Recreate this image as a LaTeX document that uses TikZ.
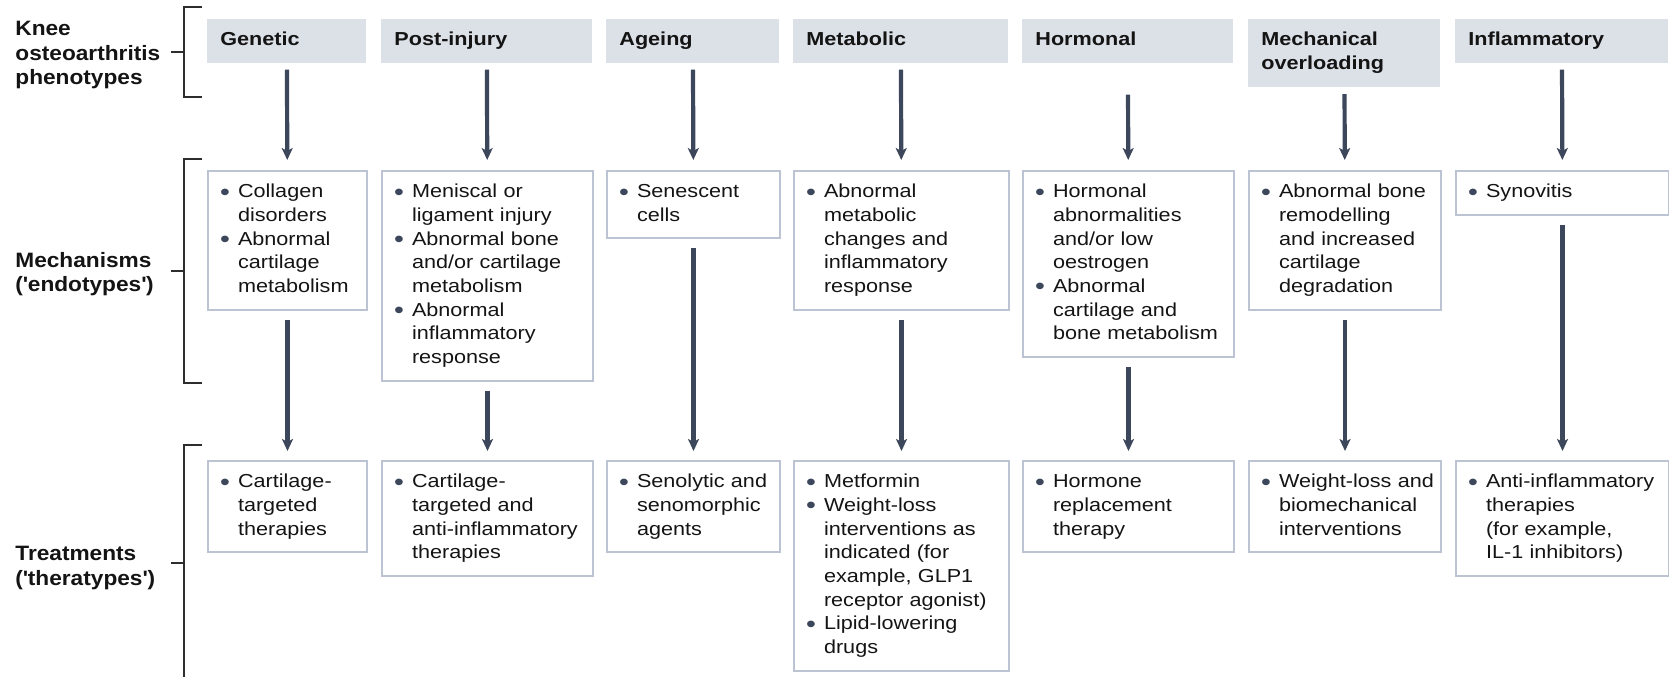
\documentclass[tikz,border=0pt]{standalone}
\usepackage{fontspec}
\newfontfamily\figfont[FakeStretch=1.15]{Liberation Sans}
\newfontfamily\lblfont[FakeStretch=1.09]{Liberation Sans}
\usepackage{xcolor}
\usetikzlibrary{arrows.meta}
\definecolor{hdrfill}{RGB}{220,224,231}
\definecolor{boxline}{RGB}{188,195,210}
\definecolor{arrowc}{RGB}{60,71,92}
\definecolor{brkc}{RGB}{45,45,45}
\definecolor{txtc}{RGB}{20,20,20}
\newcommand{\bul}{\leavevmode\llap{\textcolor{arrowc}{\raisebox{-0.25ex}{\scalebox{1.3}{\textbullet}}}\hspace{4pt}}}

\begin{document}
\begin{tikzpicture}[
  x=0.5pt, y=-0.5pt,
  >={Stealth[length=6pt,width=5.5pt,inset=1.5pt]},
  every node/.style={text=txtc},
  hdr/.style={anchor=north west, fill=hdrfill, inner xsep=6.5pt, inner ysep=5pt, text width=#1-13pt, align=left,
    font=\figfont\fontsize{9.4}{11.85}\selectfont\bfseries, execute at begin node=\strut, execute at end node=\strut},
  box/.style={anchor=north west, draw=boxline, line width=1pt, inner xsep=0pt, inner ysep=5pt, text width=#1, align=left,
    font=\figfont\fontsize{9.4}{11.85}\selectfont, execute at begin node={\leftskip=15pt\relax\strut}, execute at end node=\strut},
  lbl/.style={anchor=west, align=left, inner sep=0pt, font=\lblfont\fontsize{10.4}{12.2}\selectfont\bfseries},
  arr/.style={->, draw=arrowc, line width=2.1pt},
  brk/.style={draw=brkc, line width=0.7pt}
]
\useasboundingbox (0,0) rectangle (1669,677);

% row labels and brackets
\node[lbl] (phe) at (15,55) {Knee\\osteoarthritis\\phenotypes};
\node[lbl] (endo) at (15,274) {Mechanisms\\(\textquotesingle endotypes\textquotesingle)};
\node[lbl] (thera) at (15,568) {Treatments\\(\textquotesingle theratypes\textquotesingle)};
\draw[brk] (202,7) -- (184,7) -- (184,97) -- (202,97) (171,52) -- (184,52);
\draw[brk] (202,159) -- (184,159) -- (184,383) -- (202,383) (171,271) -- (184,271);
\draw[brk] (202,445) -- (184,445) -- (184,677) (171,563) -- (184,563);

% phenotypes
\node[hdr=79.5pt] (gen) at (207,19) {Genetic};
\node[hdr=105.5pt] (inj) at (381,19) {Post-injury};
\node[hdr=86.5pt] (age) at (606,19) {Ageing};
\node[hdr=107.5pt] (met) at (793,19) {Metabolic};
\node[hdr=105.5pt] (hor) at (1022,19) {Hormonal};
\node[hdr=96pt] (mec) at (1248,19) {Mechanical\\overloading};
\node[hdr=106.5pt] (inf) at (1455,19) {Inflammatory};

% mechanisms
\node[box=79.5pt] (gen-m) at (207,170) {\bul Collagen\\disorders\\\bul Abnormal\\cartilage\\metabolism};
\node[box=105.5pt] (inj-m) at (381,170) {\bul Meniscal or\\ligament injury\\\bul Abnormal bone\\and/or cartilage\\metabolism\\\bul Abnormal\\inflammatory\\response};
\node[box=86.5pt] (age-m) at (606,170) {\bul Senescent\\cells};
\node[box=107.5pt] (met-m) at (793,170) {\bul Abnormal\\metabolic\\changes and\\inflammatory\\response};
\node[box=105.5pt] (hor-m) at (1022,170) {\bul Hormonal\\abnormalities\\and/or low\\oestrogen\\\bul Abnormal\\cartilage and\\bone metabolism};
\node[box=96pt] (mec-m) at (1248,170) {\bul Abnormal bone\\remodelling\\and increased\\cartilage\\degradation};
\node[box=106.5pt] (inf-m) at (1455,170) {\bul Synovitis};

% treatments
\node[box=79.5pt] (gen-t) at (207,460) {\bul Cartilage-\\targeted\\therapies};
\node[box=105.5pt] (inj-t) at (381,460) {\bul Cartilage-\\targeted and\\anti-inflammatory\\therapies};
\node[box=86.5pt] (age-t) at (606,460) {\bul Senolytic and\\senomorphic\\agents};
\node[box=107.5pt] (met-t) at (793,460) {\bul Metformin\\\bul Weight-loss\\interventions as\\indicated (for\\example, GLP1\\receptor agonist)\\\bul Lipid-lowering\\drugs};
\node[box=105.5pt] (hor-t) at (1022,460) {\bul Hormone\\replacement\\therapy};
\node[box=96pt] (mec-t) at (1248,460) {\bul Weight-loss and\\biomechanical\\interventions};
\node[box=106.5pt] (inf-t) at (1455,460) {\bul Anti-inflammatory\\therapies\\(for example,\\IL-1 inhibitors)};

% arrows
\draw[arr, shorten <=3pt, shorten >=5pt] (gen) -- (gen-m);
\draw[arr, shorten <=3pt, shorten >=5pt] (inj) -- (inj-m);
\draw[arr, shorten <=3pt, shorten >=5pt] (age) -- (age-m);
\draw[arr, shorten <=3pt, shorten >=5pt] (met) -- (met-m);
\draw[arr, shorten <=15.5pt, shorten >=5pt] (hor) -- (hor-m);
\draw[arr, shorten <=3.5pt, shorten >=5pt] (mec) -- (mec-m);
\draw[arr, shorten <=3pt, shorten >=5pt] (inf) -- (inf-m);
\draw[arr, shorten <=4.5pt, shorten >=4.5pt] (gen-m) -- (gen-t);
\draw[arr, shorten <=4.5pt, shorten >=4.5pt] (inj-m) -- (inj-t);
\draw[arr, shorten <=4.5pt, shorten >=4.5pt] (age-m) -- (age-t);
\draw[arr, shorten <=4.5pt, shorten >=4.5pt] (met-m) -- (met-t);
\draw[arr, shorten <=4.5pt, shorten >=4.5pt] (hor-m) -- (hor-t);
\draw[arr, shorten <=4.5pt, shorten >=4.5pt] (mec-m) -- (mec-t);
\draw[arr, shorten <=4.5pt, shorten >=4.5pt] (inf-m) -- (inf-t);
\end{tikzpicture}
\end{document}
